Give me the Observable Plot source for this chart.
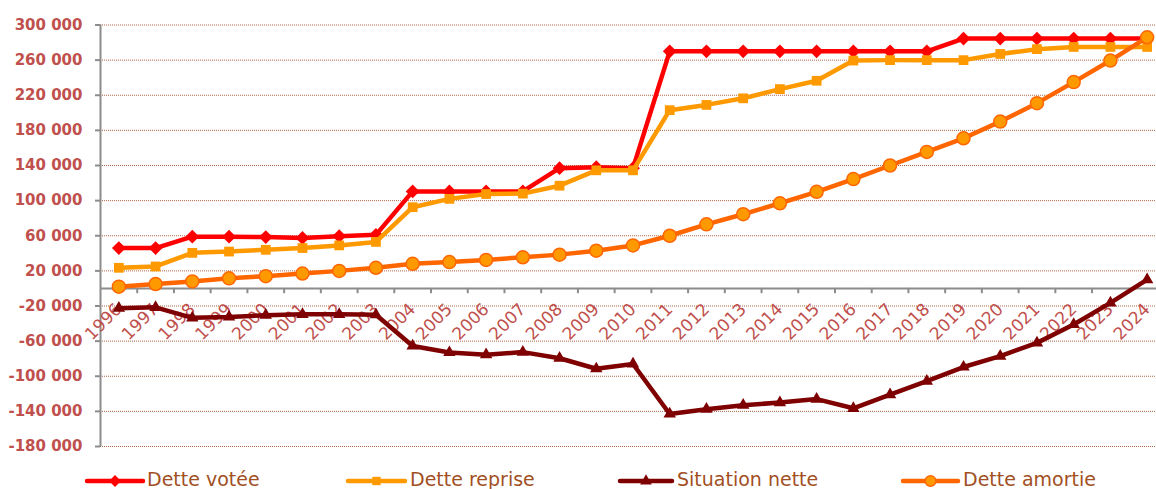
<!DOCTYPE html>
<html>
<head>
<meta charset="utf-8">
<script src="https://cdn.jsdelivr.net/npm/d3@7"></script>
<script src="https://cdn.jsdelivr.net/npm/@observablehq/plot@0.6"></script>
<style>
  html, body { margin: 0; padding: 0; background: #fff; }
  #chart svg { display: block; }
  #legend { display: block; }
</style>
</head>
<body>
<div id="chart"></div>
<script>
const years = [1996, 1997, 1998, 1999, 2000, 2001, 2002, 2003, 2004, 2005, 2006, 2007, 2008, 2009, 2010,
  2011, 2012, 2013, 2014, 2015, 2016, 2017, 2018, 2019, 2020, 2021, 2022, 2023, 2024];

const detteVotee = [46000, 46000, 59000, 59000, 58500, 57500, 59500, 61000,
  110500, 110500, 110500, 110500, 137000, 138000, 137000,
  270000, 270000, 270000, 270000, 270000, 270000, 270000, 270000,
  284500, 284500, 284500, 284500, 284500, 284500];

const detteReprise = [23500, 25000, 40500, 42000, 44000, 46000, 49000, 53000,
  92500, 102000, 107500, 108000, 117000, 134500, 134500,
  203000, 209000, 216500, 227000, 236500, 259500, 260000, 260000,
  260000, 267000, 272500, 275000, 275000, 275000];

const situationNette = [-22500, -21500, -33500, -32500, -30500, -29500, -29500, -30000,
  -65500, -73000, -75500, -72500, -79500, -91500, -86000,
  -143000, -137500, -133000, -130000, -126000, -136500, -121000, -105500,
  -89500, -77000, -62000, -41000, -16500, 10000];

const detteAmortie = [2000, 5000, 8000, 11500, 14000, 17000, 20000, 23500,
  28000, 30000, 32500, 35500, 38500, 43000, 49000,
  60000, 73000, 84500, 97000, 110000, 124500, 140000, 155500,
  171000, 190000, 211000, 235000, 259500, 286000];

const seriesNames = ["Dette votée", "Dette reprise", "Situation nette", "Dette amortie"];
const yTicks = [300000, 260000, 220000, 180000, 140000, 100000, 60000, 20000,
  -20000, -60000, -100000, -140000, -180000];

const fmt = d3.formatLocale({decimal: ",", thousands: " ", grouping: [3], currency: ["", ""], minus: "-"}).format(",");

const xMin = years[0] - 0.5, xMax = years[years.length - 1] + 0.5;
const boundaries = d3.range(xMin, xMax + 0.01, 1);
const yMin = d3.min(yTicks), yMax = d3.max(yTicks);

const toRows = (vals) => years.map((year, i) => ({year, value: vals[i]}));
const rV = toRows(detteVotee), rR = toRows(detteReprise), rS = toRows(situationNette), rA = toRows(detteAmortie);

const font = "'DejaVu Sans', sans-serif";
const gray = "#8c8c8c";
const labelColor = "#c0504d";

const plot = Plot.plot({
  width: 1156,
  height: 462,
  marginLeft: 100,
  marginRight: 0,
  marginTop: 24,
  marginBottom: 16,
  style: {fontFamily: font, background: "#fff"},
  x: {domain: [xMin, xMax], range: [100, 1165], axis: null},
  y: {domain: [yMin, yMax], range: [446, 24.5], axis: null},
  marks: [
    // gridlines
    Plot.ruleY(yTicks, {x1: xMin, x2: xMax, stroke: "#a5532f", strokeWidth: 1, strokeDasharray: "1 1", strokeOpacity: 0.9}),
    // y axis line
    Plot.ruleX([xMin], {y1: yMin, y2: yMax, stroke: gray, strokeWidth: 2}),
    Plot.axisY(yTicks, {anchor: "left", label: null, tickSize: 5, tickPadding: 13, tickFormat: fmt,
      stroke: gray, strokeWidth: 2, fill: labelColor, fontWeight: "bold", fontSize: 15}),
    // x axis line at zero
    Plot.ruleY([0], {x1: xMin, x2: xMax, stroke: gray, strokeWidth: 2}),
    Plot.ruleX(boundaries.slice(1), {y1: 0, y2: -6000, stroke: gray, strokeWidth: 2}),
    Plot.text(years, {x: d => d, y: 0, text: d => String(d), rotate: -45, textAnchor: "end",
      lineAnchor: "middle", dx: 0, dy: 18, fill: labelColor, fontSize: 17}),
    // series
    Plot.line(rV, {x: "year", y: "value", stroke: "#ff0000", strokeWidth: 4.5}),
    Plot.dot(rV, {x: "year", y: "value", symbol: "diamond2", r: 6.2, fill: "#ff0000"}),
    Plot.line(rR, {x: "year", y: "value", stroke: "#ff9900", strokeWidth: 4.5}),
    Plot.dot(rR, {x: "year", y: "value", symbol: "square", r: 5.5, fill: "#ff9900"}),
    Plot.line(rS, {x: "year", y: "value", stroke: "#7f0000", strokeWidth: 4.5}),
    Plot.dot(rS, {x: "year", y: "value", symbol: "triangle", r: 4.6, fill: "#7f0000"}),
    Plot.line(rA, {x: "year", y: "value", stroke: "#ff6600", strokeWidth: 4.5}),
    Plot.dot(rA, {x: "year", y: "value", symbol: "circle", r: 6.5, fill: "#ff9900", stroke: "#ff6600", strokeWidth: 1.5})
  ]
});
document.getElementById("chart").appendChild(plot);

// legend below
const legendItems = [
  {name: seriesNames[0], color: "#ff0000", fill: "#ff0000", sym: d3.symbolDiamond2, size: 90, x0: 87, x1: 143, tx: 147},
  {name: seriesNames[1], color: "#ff9900", fill: "#ff9900", sym: d3.symbolSquare, size: 70, x0: 348, x1: 405, tx: 410},
  {name: seriesNames[2], color: "#7f0000", fill: "#7f0000", sym: d3.symbolTriangle, size: 60, x0: 620, x1: 672, tx: 677},
  {name: seriesNames[3], color: "#ff6600", fill: "#ff9900", sym: d3.symbolCircle, size: 90, x0: 903, x1: 958, tx: 963}
];
const lg = d3.select("body").append("svg").attr("id", "legend").attr("width", 1156).attr("height", 27);
const g = lg.selectAll("g").data(legendItems).join("g");
g.append("line").attr("x1", d => d.x0).attr("x2", d => d.x1).attr("y1", 19).attr("y2", 19)
  .attr("stroke", d => d.color).attr("stroke-width", 4.5).attr("stroke-linecap", "round");
g.append("path").attr("d", d => d3.symbol(d.sym, d.size)())
  .attr("transform", d => `translate(${(d.x0 + d.x1) / 2},19)`)
  .attr("fill", d => d.fill).attr("stroke", d => d.sym === d3.symbolCircle ? d.color : "none").attr("stroke-width", 1.5);
g.append("text").attr("x", d => d.tx).attr("y", 24).text(d => d.name)
  .attr("fill", "#a24f1f").attr("font-family", font).attr("font-size", 19);
</script>
</body>
</html>
